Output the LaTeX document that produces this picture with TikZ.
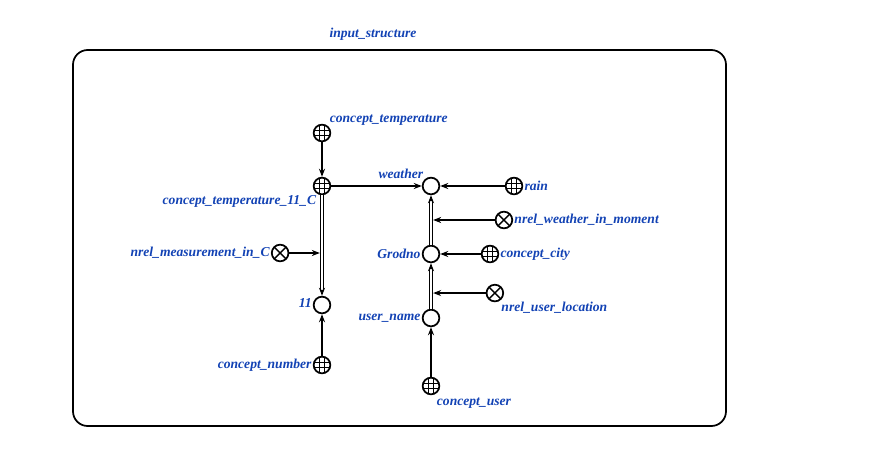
\documentclass[tikz,border=0pt]{standalone}
\usepackage{fontspec}
\setmainfont{Liberation Serif}
\usepackage{tikz}
\usetikzlibrary{arrows.meta, positioning, calc}
\definecolor{scblue}{RGB}{18,66,180}

\tikzset{
  sc/.style={circle, draw, line width=1.3pt, minimum size=12.5pt, inner sep=0pt},
  sclass/.style={sc, path picture={
      \foreach \d in {-2.1pt,2.1pt}{
        \draw[line width=0.6pt] ([xshift=\d]path picture bounding box.north) -- ([xshift=\d]path picture bounding box.south);
        \draw[line width=0.6pt] ([yshift=\d]path picture bounding box.west) -- ([yshift=\d]path picture bounding box.east);
      }}},
  srole/.style={sc, path picture={
      \draw[line width=1pt] (path picture bounding box.north west) -- (path picture bounding box.south east)
        (path picture bounding box.north east) -- (path picture bounding box.south west);}},
  lbl/.style={text=scblue, font=\fontsize{10.2}{11}\selectfont\bfseries\itshape, inner sep=0.8pt},
  arc/.style={-{Stealth[length=6pt,width=4.5pt]}, line width=1.3pt},
  pairarc/.style={-{Stealth[length=6pt,width=4.5pt]}, double, double distance=1.6pt, line width=0.7pt},
}

\begin{document}
\begin{tikzpicture}[x=0.75pt,y=-0.75pt,on grid]
  \useasboundingbox (0,0) rectangle (869,461);
  \draw[line width=1.3pt, rounded corners=11pt] (73,50) rectangle (726,426);
  \node[lbl] (title) at (373,34) {input\_structure};

  % left part
  \node[sclass, label={[lbl,anchor=north east]240:concept\_temperature\_11\_C}] (c_temp11) at (322,186) {};
  \node[sclass, label={[lbl,anchor=south west]45:concept\_temperature}] (c_temp) [above=39.75pt of c_temp11] {};
  \node[sc, label={[lbl,anchor=east]170:11}] (n11) [below=89.25pt of c_temp11] {};
  \node[sclass, label={[lbl,anchor=east]180:concept\_number}] (c_number) [below=45pt of n11] {};

  % right part
  \node[sc, label={[lbl,anchor=south east]135:weather}] (weather) [right=81.75pt of c_temp11] {};
  \node[sclass, label={[lbl,anchor=west]0:rain}] (rain) [right=62.25pt of weather] {};
  \node[sc, label={[lbl,anchor=east]180:Grodno}] (grodno) [below=51pt of weather] {};
  \node[sclass, label={[lbl,anchor=west]0:concept\_city}] (c_city) [right=44.25pt of grodno] {};
  \node[sc, label={[lbl,anchor=east]180:user\_name}] (user_name) [below=48pt of grodno] {};
  \node[sclass, label={[lbl,anchor=north west,yshift=-2pt]-60:concept\_user}] (c_user) [below=51pt of user_name] {};

  \coordinate (m_weather) at ($(grodno)!0.5!(weather)$);
  \coordinate (m_loc) at ($(user_name)!0.39!(grodno)$);
  \coordinate (m_meas) at ($(c_temp11)!0.563!(n11)$);
  \node[srole, label={[lbl,anchor=west]0:nrel\_weather\_in\_moment}] (nrel_weather) [right=47.8pt of m_weather] {};
  \node[srole, label={[lbl,anchor=north west]-55:nrel\_user\_location}] (nrel_loc) [right=41pt of m_loc] {};
  \node[srole, label={[lbl,anchor=east]180:nrel\_measurement\_in\_C}] (nrel_meas) [left=24.5pt of m_meas] {};

  \draw[pairarc] (grodno) -- (weather);
  \draw[pairarc] (user_name) -- (grodno);
  \draw[pairarc] (c_temp11) -- (n11);
  \path[arc]
    (c_temp) edge (c_temp11)
    (c_temp11) edge (weather)
    (rain) edge (weather)
    (c_city) edge (grodno)
    (c_user) edge (user_name)
    (c_number) edge (n11);
  \path[arc, shorten >=1.6pt]
    (nrel_weather) edge (m_weather)
    (nrel_loc) edge (m_loc)
    (nrel_meas) edge (m_meas);
\end{tikzpicture}
\end{document}
